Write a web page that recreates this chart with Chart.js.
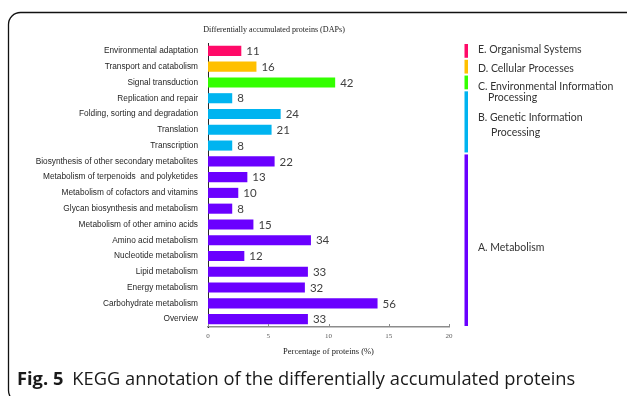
<!DOCTYPE html>
<html>
<head>
<meta charset="utf-8">
<script src="https://cdn.jsdelivr.net/npm/chart.js@4"></script>
<style>
  html, body { margin: 0; padding: 0; background: #fff; }
  canvas { display: block; }
</style>
</head>
<body>
<canvas id="kegg" width="627" height="396"></canvas>
<script>
// KEGG pathway categories, listed top to bottom
const categories = [
  'Environmental adaptation',
  'Transport and catabolism',
  'Signal transduction',
  'Replication and repair',
  'Folding, sorting and degradation',
  'Translation',
  'Transcription',
  'Biosynthesis of other secondary metabolites',
  'Metabolism of terpenoids  and polyketides',
  'Metabolism of cofactors and vitamins',
  'Glycan biosynthesis and metabolism',
  'Metabolism of other amino acids',
  'Amino acid metabolism',
  'Nucleotide metabolism',
  'Lipid metabolism',
  'Energy metabolism',
  'Carbohydrate metabolism',
  'Overview'
];

// Number of DAPs annotated to each category
const proteinCounts = [11, 16, 42, 8, 24, 21, 8, 22, 13, 10, 8, 15, 34, 12, 33, 32, 56, 33];

// KEGG top-level groups, in the same top-to-bottom order
const groupLabels = [
  ['E. Organismal Systems'],
  ['D. Cellular Processes'],
  ['C. Environmental Information', 'Processing'],
  ['B. Genetic Information', 'Processing'],
  ['A. Metabolism']
];
const groupSizes = [1, 1, 1, 4, 11];
const groupColors = ['#FF0A68', '#FFC000', '#33FF00', '#00B4F0', '#6A00FF'];

const xTicks = [0, 5, 10, 15, 20];

const chartTitle = 'Differentially accumulated proteins (DAPs)';
const xAxisTitle = 'Percentage of proteins (%)';
const captionBold = 'Fig. 5';
const captionText = 'KEGG annotation of the differentially accumulated proteins';

// share of all annotated proteins, in percent
const totalCount = proteinCounts.reduce((a, b) => a + b, 0);
const percentages = proteinCounts.map(c => c / totalCount * 100);

// bar colour follows the group each category belongs to
const barColors = [];
groupSizes.forEach((n, g) => { for (let i = 0; i < n; i++) barColors.push(groupColors[g]); });

const SERIF = '"Liberation Serif", "Times New Roman", serif';
const SANS = '"Liberation Sans", Arial, sans-serif';
const HUMANIST = 'Lato, "Open Sans", sans-serif';

const decorations = {
  id: 'decorations',
  beforeDraw(chart) {
    const ctx = chart.ctx;
    ctx.save();
    ctx.fillStyle = '#ffffff';
    ctx.fillRect(0, 0, chart.width, chart.height);
    ctx.restore();
  },
  afterDatasetsDraw(chart) {
    const ctx = chart.ctx;
    const meta = chart.getDatasetMeta(0);
    ctx.save();
    ctx.font = '11.5px ' + HUMANIST;
    ctx.fillStyle = '#404040';
    ctx.textBaseline = 'middle';
    ctx.textAlign = 'left';
    meta.data.forEach((bar, i) => {
      ctx.fillText(String(proteinCounts[i]), bar.x + 5, bar.y + 0.5);
    });
    ctx.restore();
  },
  afterDraw(chart) {
    const ctx = chart.ctx;
    const area = chart.chartArea;
    const xs = chart.scales.x;
    const ys = chart.scales.y;
    ctx.save();

    // chart title
    ctx.font = '8.1px ' + SERIF;
    ctx.fillStyle = '#1a1a1a';
    ctx.textAlign = 'center';
    ctx.textBaseline = 'middle';
    ctx.fillText(chartTitle, 274, 30);

    // small inward tick marks on the x axis
    ctx.strokeStyle = '#8c8c8c';
    ctx.lineWidth = 1;
    xTicks.forEach(v => {
      const px = Math.round(xs.getPixelForValue(v)) + 0.5;
      ctx.beginPath();
      ctx.moveTo(px, area.bottom);
      ctx.lineTo(px, area.bottom - 3);
      ctx.stroke();
    });

    // x axis title
    ctx.font = '8.5px ' + SERIF;
    ctx.fillStyle = '#1a1a1a';
    ctx.fillText(xAxisTitle, (area.left + area.right) / 2, 352);

    // group brackets and labels on the right
    const step = ys.getPixelForValue(1) - ys.getPixelForValue(0);
    const labelY = [[50], [69], [87, 98], [118, 133], [248]];
    const indent = [[0], [0], [0, 10], [0, 13], [0]];
    let start = 0;
    groupSizes.forEach((n, g) => {
      const top = ys.getPixelForValue(start) - step / 2 + 1;
      const bottom = ys.getPixelForValue(start + n - 1) + step / 2 - 1;
      ctx.fillStyle = groupColors[g];
      ctx.fillRect(464.5, top, 3.5, bottom - top);
      ctx.font = '10.5px ' + HUMANIST;
      ctx.fillStyle = '#333333';
      ctx.textAlign = 'left';
      groupLabels[g].forEach((line, k) => {
        ctx.fillText(line, 478 + indent[g][k], labelY[g][k]);
      });
      start += n;
    });

    // figure caption
    ctx.textBaseline = 'alphabetic';
    ctx.fillStyle = '#1a1a1a';
    ctx.font = 'bold 18.3px "Open Sans", sans-serif';
    ctx.fillText(captionBold, 17, 385);
    const w = ctx.measureText(captionBold).width;
    ctx.font = '18.3px "Open Sans", sans-serif';
    ctx.fillText(captionText, 17 + w + 9, 385);

    // rounded figure frame
    ctx.strokeStyle = '#111111';
    ctx.lineWidth = 1.3;
    ctx.beginPath();
    ctx.roundRect(8.5, 12.5, 720, 390, 12);
    ctx.stroke();

    ctx.restore();
  }
};

new Chart(document.getElementById('kegg'), {
  type: 'bar',
  data: {
    labels: categories,
    datasets: [{
      data: percentages,
      backgroundColor: barColors,
      borderWidth: 0,
      barPercentage: 0.64,
      categoryPercentage: 1
    }]
  },
  options: {
    indexAxis: 'y',
    responsive: false,
    animation: false,
    layout: { padding: { top: 43, right: 178, bottom: 0, left: 0 } },
    plugins: {
      legend: { display: false },
      title: { display: false },
      tooltip: { enabled: false }
    },
    scales: {
      x: {
        min: 0,
        max: 20,
        afterBuildTicks(scale) { scale.ticks = xTicks.map(v => ({ value: v })); },
        ticks: {
          font: { family: SERIF, size: 7 },
          color: '#595959',
          padding: 5
        },
        grid: { display: false, drawTicks: false },
        border: { display: true, color: '#8c8c8c', width: 1.5 },
        afterFit(scale) { scale.height = 69; }
      },
      y: {
        ticks: {
          font: { family: SANS, size: 8.3 },
          color: '#262626',
          padding: 10,
          autoSkip: false
        },
        grid: { display: false, drawTicks: false },
        border: { display: true, color: '#262626', width: 1 },
        afterFit(scale) { scale.width = 208; }
      }
    }
  },
  plugins: [decorations]
});
</script>
</body>
</html>
